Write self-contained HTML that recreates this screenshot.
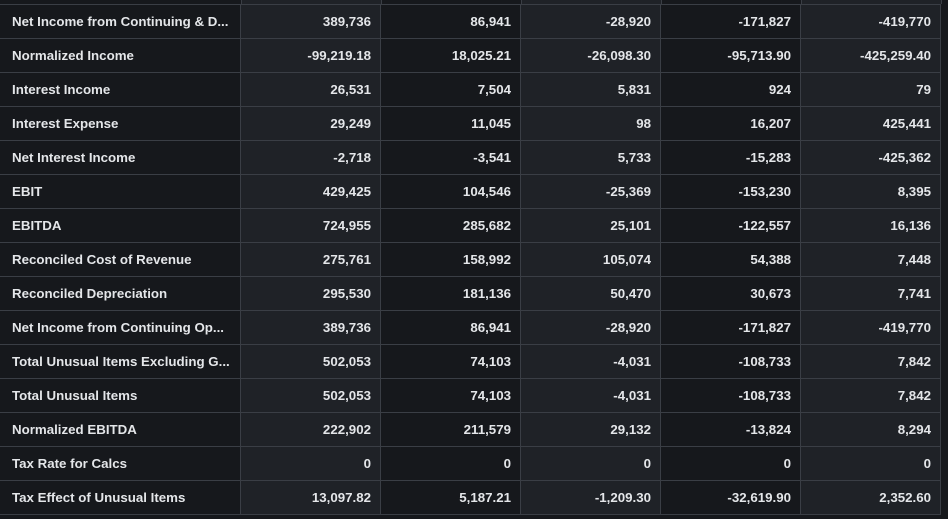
<!DOCTYPE html>
<html><head><style>
html,body{margin:0;padding:0;background:#16181c;width:948px;height:519px;overflow:hidden}
table{position:absolute;left:0;top:4px;border-collapse:collapse;font-family:"Liberation Sans",sans-serif;font-size:13.3px;font-weight:bold;color:#e4e6e9;table-layout:fixed}
td{height:33px;border:1px solid #3a3e45;padding:0 9px 0 12px;white-space:nowrap;overflow:hidden;text-align:right;letter-spacing:0}
td:first-child{text-align:left;width:219px;background:#16181c;border-left:none}
td:nth-child(2),td:nth-child(4),td:nth-child(6){background:#1f2227}
td:nth-child(3),td:nth-child(5){background:#16181c}
td:nth-child(n+2){width:118px}
.top{position:absolute;left:0;top:0;width:941px;height:4px}
.top div{position:absolute;top:0;height:4px;border-left:1px solid #3a3e45}
</style></head><body>
<div class="top"><div style="left:241px;width:139px;background:#1f2227"></div><div style="left:521px;width:139px;background:#1f2227"></div><div style="left:801px;width:139px;background:#1f2227;border-right:1px solid #3a3e45"></div><div style="left:381px"></div><div style="left:661px"></div></div>
<table>
<tr><td>Net Income from Continuing &amp; D...</td><td>389,736</td><td>86,941</td><td>-28,920</td><td>-171,827</td><td>-419,770</td></tr>
<tr><td>Normalized Income</td><td>-99,219.18</td><td>18,025.21</td><td>-26,098.30</td><td>-95,713.90</td><td>-425,259.40</td></tr>
<tr><td>Interest Income</td><td>26,531</td><td>7,504</td><td>5,831</td><td>924</td><td>79</td></tr>
<tr><td>Interest Expense</td><td>29,249</td><td>11,045</td><td>98</td><td>16,207</td><td>425,441</td></tr>
<tr><td>Net Interest Income</td><td>-2,718</td><td>-3,541</td><td>5,733</td><td>-15,283</td><td>-425,362</td></tr>
<tr><td>EBIT</td><td>429,425</td><td>104,546</td><td>-25,369</td><td>-153,230</td><td>8,395</td></tr>
<tr><td>EBITDA</td><td>724,955</td><td>285,682</td><td>25,101</td><td>-122,557</td><td>16,136</td></tr>
<tr><td>Reconciled Cost of Revenue</td><td>275,761</td><td>158,992</td><td>105,074</td><td>54,388</td><td>7,448</td></tr>
<tr><td>Reconciled Depreciation</td><td>295,530</td><td>181,136</td><td>50,470</td><td>30,673</td><td>7,741</td></tr>
<tr><td>Net Income from Continuing Op...</td><td>389,736</td><td>86,941</td><td>-28,920</td><td>-171,827</td><td>-419,770</td></tr>
<tr><td>Total Unusual Items Excluding G...</td><td>502,053</td><td>74,103</td><td>-4,031</td><td>-108,733</td><td>7,842</td></tr>
<tr><td>Total Unusual Items</td><td>502,053</td><td>74,103</td><td>-4,031</td><td>-108,733</td><td>7,842</td></tr>
<tr><td>Normalized EBITDA</td><td>222,902</td><td>211,579</td><td>29,132</td><td>-13,824</td><td>8,294</td></tr>
<tr><td>Tax Rate for Calcs</td><td>0</td><td>0</td><td>0</td><td>0</td><td>0</td></tr>
<tr><td>Tax Effect of Unusual Items</td><td>13,097.82</td><td>5,187.21</td><td>-1,209.30</td><td>-32,619.90</td><td>2,352.60</td></tr>
</table>
</body></html>
